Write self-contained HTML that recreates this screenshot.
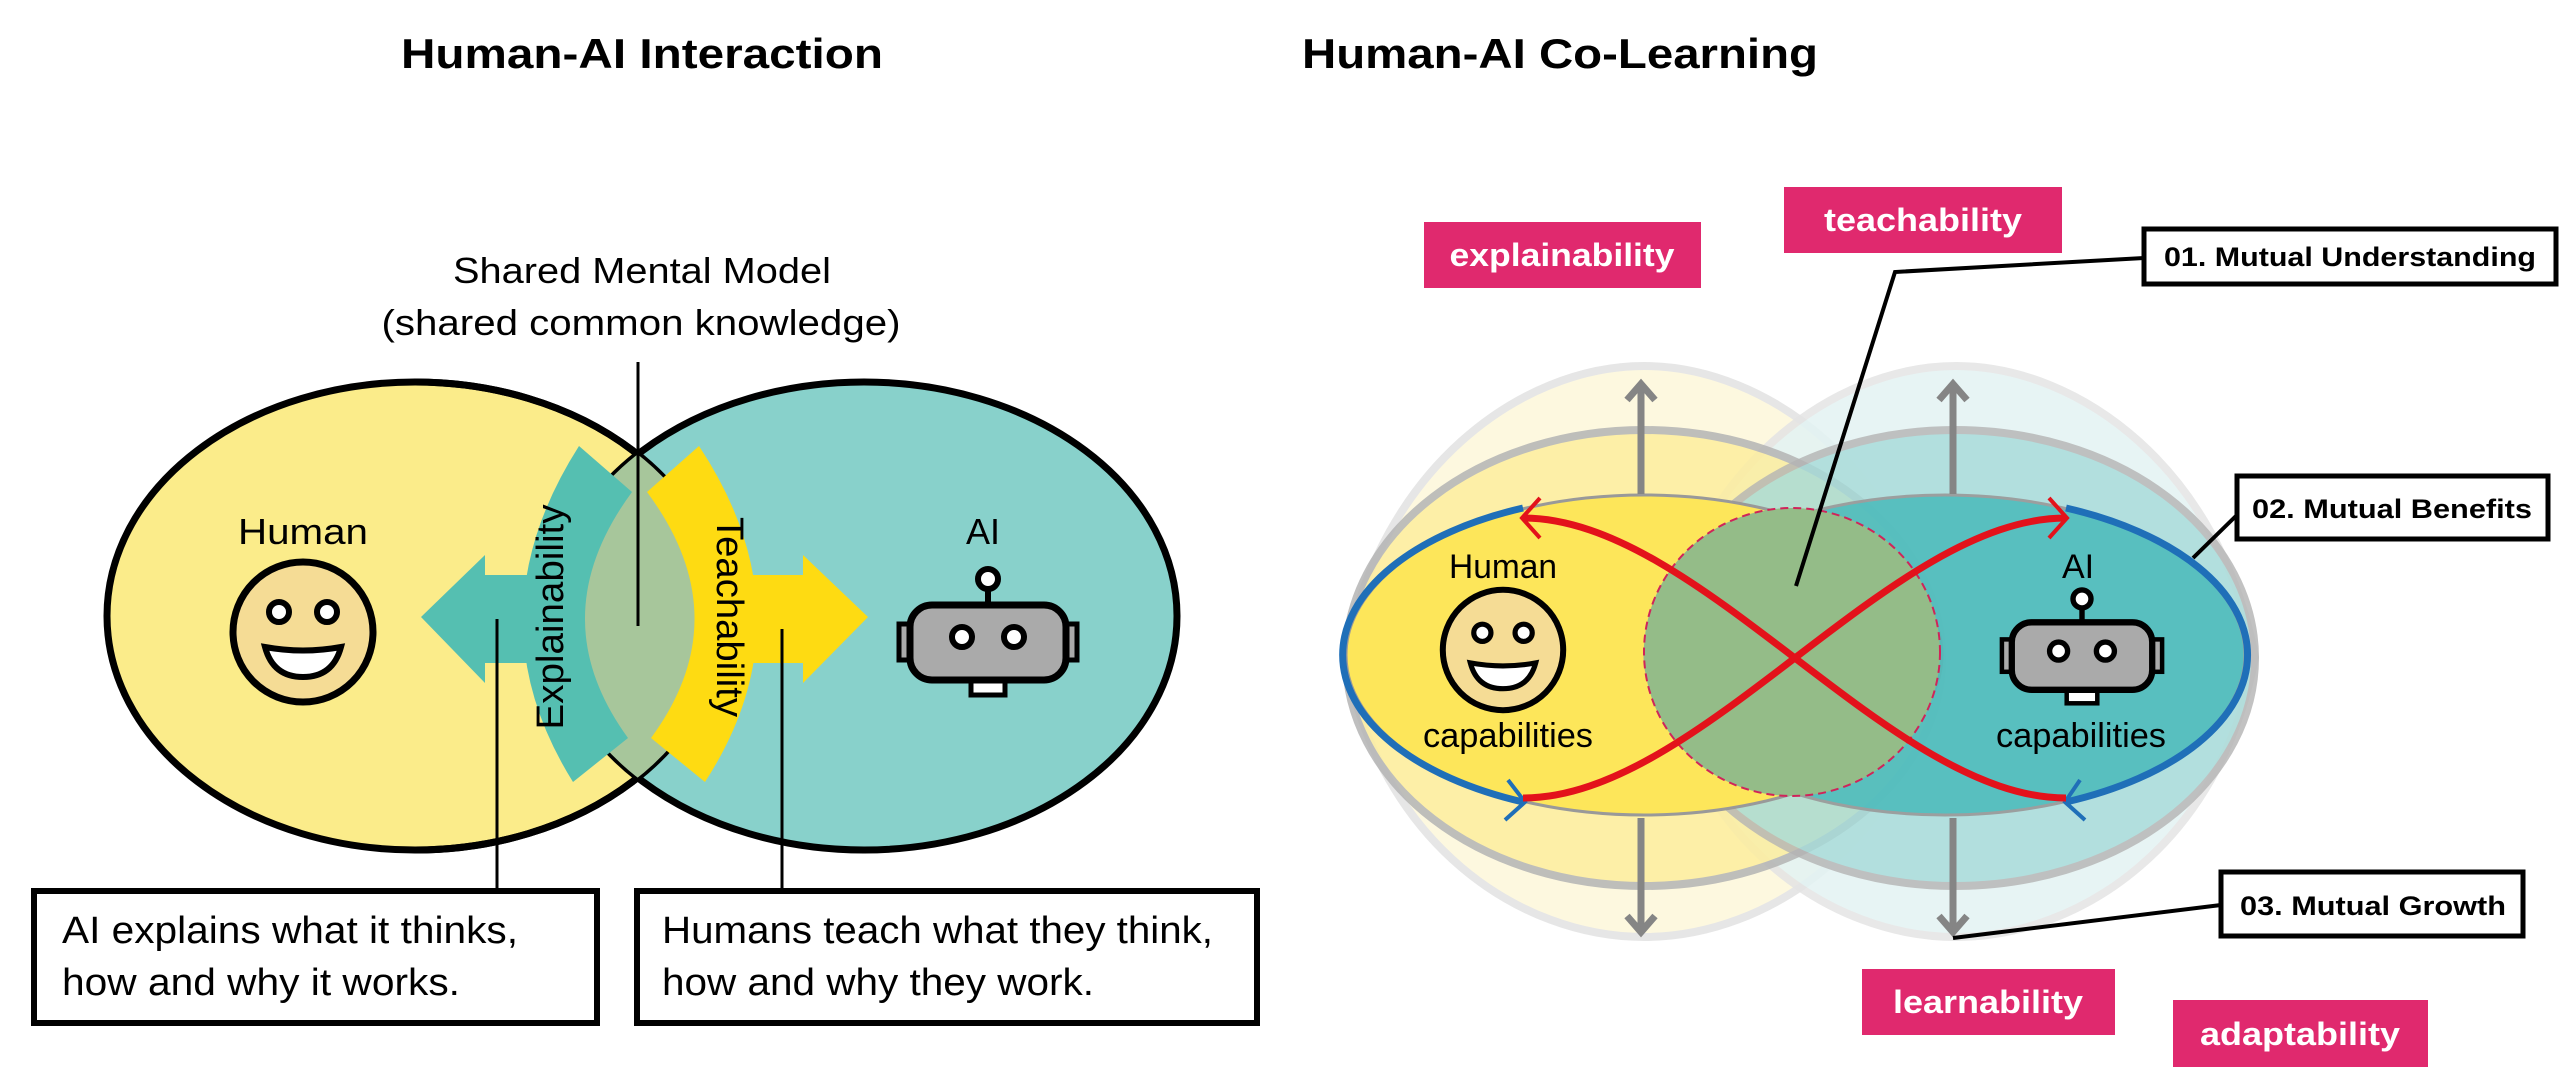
<!DOCTYPE html>
<html><head><meta charset="utf-8"><style>html,body{margin:0;padding:0;background:#fff}svg{display:block}</style></head>
<body>
<svg width="2568" height="1082" viewBox="0 0 2568 1082" xmlns="http://www.w3.org/2000/svg" font-family="Liberation Sans, sans-serif">
<defs>
<g id="robot">
 <line x1="0" y1="-58" x2="0" y2="-33" stroke="#000" stroke-width="6"/>
 <circle cx="0" cy="-59" r="10" fill="#fff" stroke="#000" stroke-width="6"/>
 <rect x="-89" y="-14" width="14" height="36" fill="#aaa" stroke="#000" stroke-width="5"/>
 <rect x="75" y="-14" width="14" height="36" fill="#aaa" stroke="#000" stroke-width="5"/>
 <rect x="-17" y="40" width="34" height="17" fill="#fff" stroke="#000" stroke-width="5"/>
 <rect x="-78" y="-33" width="156" height="75" rx="22" fill="#aaa" stroke="#000" stroke-width="7"/>
 <circle cx="-26" cy="-1" r="10" fill="#fff" stroke="#000" stroke-width="6"/>
 <circle cx="26" cy="-1" r="10" fill="#fff" stroke="#000" stroke-width="6"/>
</g>
<g id="smile">
 <ellipse cx="0" cy="0" rx="70" ry="70" fill="#f5dc95" stroke="#000" stroke-width="7"/>
 <circle cx="-24" cy="-20" r="10" fill="#fff" stroke="#000" stroke-width="6"/>
 <circle cx="24" cy="-20" r="10" fill="#fff" stroke="#000" stroke-width="6"/>
 <path d="M-38,15 Q0,22 38,15 Q30,45 0,45 Q-30,45 -38,15 Z" fill="#fff" stroke="#000" stroke-width="6"/>
</g>
<clipPath id="cl"><ellipse cx="415" cy="616" rx="308" ry="234"/></clipPath>
</defs>

<!-- LEFT PANEL -->
<text x="642" y="68" text-anchor="middle" font-size="42" font-weight="bold" textLength="482" lengthAdjust="spacingAndGlyphs">Human-AI Interaction</text>
<text x="642" y="283" text-anchor="middle" font-size="36" textLength="378" lengthAdjust="spacingAndGlyphs">Shared Mental Model</text>
<text x="641" y="335" text-anchor="middle" font-size="36" textLength="519" lengthAdjust="spacingAndGlyphs">(shared common knowledge)</text>

<ellipse cx="415" cy="616" rx="308" ry="234" fill="#fbec8a" stroke="#000" stroke-width="7"/>
<ellipse cx="864" cy="616" rx="313" ry="234" fill="#88d1cb" stroke="#000" stroke-width="7"/>
<path d="M415,382 A308,234 0 0 1 415,850" fill="none" stroke="#000" stroke-width="7"/>
<ellipse cx="864" cy="616" rx="313" ry="234" fill="#a7c69b" clip-path="url(#cl)"/>

<!-- explainability arrow -->
<path d="M579,446 Q470,617 573,782 L628,738 Q540,617 632,492 Z" fill="#55bfb1"/>
<path d="M540,575 L485,575 L485,555 L421,617 L485,683 L485,663 L540,663 Z" fill="#55bfb1"/>
<!-- teachability arrow -->
<path d="M699,446 Q812,617 705,782 L651,738 Q740,617 647,492 Z" fill="#fedb12"/>
<path d="M740,575 L803,575 L803,555 L868,617 L803,683 L803,663 L740,663 Z" fill="#fedb12"/>
<text transform="translate(563,617) rotate(-90)" text-anchor="middle" font-size="38" textLength="225" lengthAdjust="spacingAndGlyphs">Explainability</text>
<text transform="translate(717,617) rotate(90)" text-anchor="middle" font-size="38" textLength="200" lengthAdjust="spacingAndGlyphs">Teachability</text>

<line x1="638" y1="362" x2="638" y2="626" stroke="#000" stroke-width="3"/>
<line x1="497" y1="619" x2="497" y2="889" stroke="#000" stroke-width="3"/>
<line x1="782" y1="629" x2="782" y2="889" stroke="#000" stroke-width="3"/>

<text x="303" y="544" text-anchor="middle" font-size="36" textLength="130" lengthAdjust="spacingAndGlyphs">Human</text>
<use href="#smile" x="303" y="632"/>
<text x="983" y="544" text-anchor="middle" font-size="36">AI</text>
<use href="#robot" x="988" y="638"/>

<rect x="34" y="891" width="563" height="132" fill="#fff" stroke="#000" stroke-width="6"/>
<text x="62" y="943" font-size="38" textLength="456" lengthAdjust="spacingAndGlyphs">AI explains what it thinks,</text>
<text x="62" y="995" font-size="38" textLength="398" lengthAdjust="spacingAndGlyphs">how and why it works.</text>
<rect x="637" y="891" width="620" height="132" fill="#fff" stroke="#000" stroke-width="6"/>
<text x="662" y="943" font-size="38" textLength="551" lengthAdjust="spacingAndGlyphs">Humans teach what they think,</text>
<text x="662" y="995" font-size="38" textLength="432" lengthAdjust="spacingAndGlyphs">how and why they work.</text>

<!-- RIGHT PANEL -->
<text x="1302" y="68" font-size="42" font-weight="bold" textLength="516" lengthAdjust="spacingAndGlyphs">Human-AI Co-Learning</text>

<path d="M1345,657 C1380,470 1520,366 1644,366 C1768,366 1908,470 1943,657 C1908,844 1768,937 1644,937 C1520,937 1380,844 1345,657Z" fill="#fdf8dc" stroke="#e4e4e4" stroke-width="8" opacity="0.9"/>
<path d="M1657,657 C1692,470 1832,366 1956,366 C2080,366 2220,470 2255,657 C2220,844 2080,937 1956,937 C1832,937 1692,844 1657,657Z" fill="#e3f3f3" stroke="#e4e4e4" stroke-width="8" opacity="0.85"/>
<ellipse cx="1644" cy="658" rx="298" ry="228" fill="#fdee9e" stroke="#b4b4b4" stroke-width="8" opacity="0.85"/>
<ellipse cx="1955" cy="658" rx="300" ry="228" fill="#a6dbd9" stroke="#b4b4b4" stroke-width="8" opacity="0.8"/>
<ellipse cx="1644" cy="655" rx="298" ry="160" fill="#fde65a" stroke="#999" stroke-width="3"/>
<ellipse cx="1945" cy="655" rx="300" ry="160" fill="#4fbcbc" stroke="#999" stroke-width="3" opacity="0.9"/>
<ellipse cx="1792" cy="652" rx="148" ry="144" fill="#94bc88" stroke="#d0245a" stroke-width="2" stroke-dasharray="8,5"/>

<!-- gray vertical arrows -->
<g stroke="#858585" stroke-width="7" fill="none">
<line x1="1641" y1="494" x2="1641" y2="386"/><path d="M1627,400 L1641,384 L1655,400"/>
<line x1="1953" y1="494" x2="1953" y2="386"/><path d="M1939,400 L1953,384 L1967,400"/>
<line x1="1641" y1="818" x2="1641" y2="930"/><path d="M1627,916 L1641,932 L1655,916"/>
<line x1="1953" y1="818" x2="1953" y2="930"/><path d="M1939,916 L1953,932 L1967,916"/>
</g>

<!-- blue arcs -->
<g stroke="#1f6fb8" stroke-width="7" fill="none">
<path d="M1523,508 A298,160 0 0 0 1523,802"/>
<path d="M2066,508 A300,160 0 0 1 2066,802"/>
<path d="M1508,780 L1525,802 L1505,820" stroke-width="4"/>
<path d="M2080,780 L2065,802 L2085,820" stroke-width="4"/>
</g>
<!-- red curves -->
<g stroke="#e3121b" stroke-width="7" fill="none">
<path d="M1523,518 C1700,518 1890,798 2066,798"/>
<path d="M1523,798 C1700,798 1890,518 2066,518"/>
<path d="M1540,498 L1522,518 L1540,538" stroke-width="4"/>
<path d="M2049,498 L2067,518 L2049,538" stroke-width="4"/>
</g>

<text x="1503" y="578" text-anchor="middle" font-size="34" textLength="108" lengthAdjust="spacingAndGlyphs">Human</text>
<use href="#smile" transform="translate(1503,650) scale(0.86)"/>
<text x="1508" y="747" text-anchor="middle" font-size="34" textLength="170" lengthAdjust="spacingAndGlyphs">capabilities</text>
<text x="2078" y="578" text-anchor="middle" font-size="34">AI</text>
<use href="#robot" transform="translate(2082,652) scale(0.9)"/>
<text x="2081" y="747" text-anchor="middle" font-size="34" textLength="170" lengthAdjust="spacingAndGlyphs">capabilities</text>

<!-- pink labels -->
<g font-size="32" font-weight="bold" fill="#fff" text-anchor="middle">
<rect x="1424" y="222" width="277" height="66" fill="#e0296e"/>
<text x="1562" y="266" textLength="225" lengthAdjust="spacingAndGlyphs">explainability</text>
<rect x="1784" y="187" width="278" height="66" fill="#e0296e"/>
<text x="1923" y="231" textLength="198" lengthAdjust="spacingAndGlyphs">teachability</text>
<rect x="1862" y="969" width="253" height="66" fill="#e0296e"/>
<text x="1988" y="1013" textLength="190" lengthAdjust="spacingAndGlyphs">learnability</text>
<rect x="2173" y="1000" width="255" height="67" fill="#e0296e"/>
<text x="2300" y="1045" textLength="200" lengthAdjust="spacingAndGlyphs">adaptability</text>
</g>

<!-- leader lines -->
<g stroke="#000" stroke-width="4" fill="none">
<path d="M2144,258 L1895,272 L1796,586"/>
<path d="M2239,513 L2193,558"/>
<path d="M2221,905 L1953,938"/>
</g>
<g font-size="27" font-weight="bold">
<rect x="2144" y="229" width="412" height="55" fill="#fff" stroke="#000" stroke-width="5"/>
<text x="2164" y="266" textLength="372" lengthAdjust="spacingAndGlyphs">01. Mutual Understanding</text>
<rect x="2237" y="476" width="311" height="63" fill="#fff" stroke="#000" stroke-width="5"/>
<text x="2252" y="518" textLength="280" lengthAdjust="spacingAndGlyphs">02. Mutual Benefits</text>
<rect x="2221" y="872" width="302" height="64" fill="#fff" stroke="#000" stroke-width="5"/>
<text x="2240" y="915" textLength="266" lengthAdjust="spacingAndGlyphs">03. Mutual Growth</text>
</g>
</svg>
</body></html>
